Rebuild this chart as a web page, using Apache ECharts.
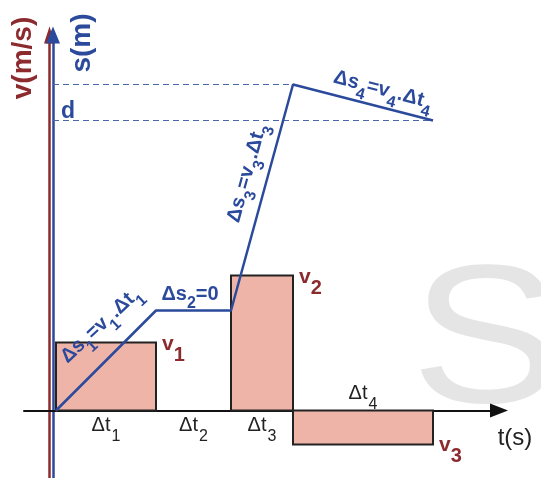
<!DOCTYPE html>
<html>
<head>
<meta charset="utf-8">
<script src="https://cdn.jsdelivr.net/npm/echarts@6/dist/echarts.min.js"></script>
<style>
html, body { margin: 0; padding: 0; background: #fff; }
#main { width: 541px; height: 478px; }
</style>
</head>
<body>
<div id="main"></div>
<script>
// time edges of the four intervals (arbitrary units)
var tEdges = [0, 10, 17.5, 23.7, 37.7];
// velocity in each interval
var velocities = [6.8, 0, 13.5, -3.4];
var intervalNames = ['1', '2', '3', '4'];
var velocityNames = ['1', '', '2', '3'];
// position curve s(t)
var sTimes = [0, 10, 17.5, 23.7, 37.7];
var sValues = [0, 10, 10, 32.6, 29];
var peakS = 32.6;
var dValue = 29;

var RED = '#8c2b2e';
var BLUE = '#2b4a9c';
var FONT = '"Liberation Sans", Arial, sans-serif';

// where the two vertical axes sit, in t units
var vAxisAt = -0.65;
var sAxisAt = -0.3;
var xMin = -3.2, xMax = 44.3;

var barData = [];
for (var i = 0; i < velocities.length; i++) {
    barData.push([tEdges[i], tEdges[i + 1], velocities[i]]);
}

// rich styles (zrender style, so fill not color)
var dtRich = {
    m: { fontSize: 20, fill: '#222', fontFamily: FONT, lineHeight: 22, verticalAlign: 'top' },
    s: { fontSize: 16, fill: '#222', fontFamily: FONT, lineHeight: 16, verticalAlign: 'top', padding: [13, 0, 0, 1] }
};
var vRich = {
    m: { fontSize: 21, fontWeight: 'bold', fill: RED, fontFamily: FONT, lineHeight: 20, verticalAlign: 'top' },
    s: { fontSize: 20, fontWeight: 'bold', fill: RED, fontFamily: FONT, lineHeight: 20, verticalAlign: 'top', padding: [12, 0, 0, 0] }
};
var aRich = {
    a: { fontSize: 20, fontWeight: 'bold', fill: BLUE, fontFamily: FONT, lineHeight: 20, verticalAlign: 'top' },
    b: { fontSize: 16, fontWeight: 'bold', fill: BLUE, fontFamily: FONT, lineHeight: 16, verticalAlign: 'top', padding: [12, 0, 0, 0] }
};

function renderBar(params, api) {
    var idx = params.dataIndex;
    var t0 = api.value(0), t1 = api.value(1), v = api.value(2);
    var p0 = api.coord([t0, 0]);
    var p1 = api.coord([t1, v]);
    var y = Math.min(p0[1], p1[1]);
    var h = Math.abs(p1[1] - p0[1]);
    var children = [];
    if (h > 0) {
        children.push({
            type: 'rect',
            shape: { x: p0[0], y: y, width: p1[0] - p0[0], height: h },
            style: { fill: '#efb4a8', stroke: '#222', lineWidth: 2 }
        });
        children.push({
            type: 'text',
            x: p1[0] + 6,
            y: v > 0 ? p1[1] - 9 : p1[1] - 10,
            style: { text: '{m|v}{s|' + velocityNames[idx] + '}', rich: vRich, align: 'left', verticalAlign: 'top' },
            z2: 10
        });
    }
    var midX = (p0[0] + p1[0]) / 2;
    children.push({
        type: 'text',
        x: midX,
        y: v < 0 ? p0[1] - 5 : p0[1] + 5,
        style: { text: '{m|\u0394t}{s|' + intervalNames[idx] + '}', rich: dtRich, align: 'center', verticalAlign: v < 0 ? 'bottom' : 'top' },
        z2: 10
    });
    return { type: 'group', children: children };
}

var chart = echarts.init(document.getElementById('main'));
chart.setOption({
    animation: false,
    backgroundColor: '#fff',
    textStyle: { fontFamily: FONT },
    grid: { left: 24, right: 42, top: 35, bottom: 0 },
    xAxis: [
        {
            type: 'value', min: xMin, max: xMax,
            axisLine: { onZero: true, onZeroAxisIndex: 0, symbol: ['none', 'triangle'], symbolSize: [14, 18], lineStyle: { color: '#111', width: 2 } },
            axisTick: { show: false }, axisLabel: { show: false }, splitLine: { show: false }
        },
        { type: 'value', show: false, min: xMin - vAxisAt, max: xMax - vAxisAt },
        { type: 'value', show: false, min: xMin - sAxisAt, max: xMax - sAxisAt }
    ],
    yAxis: [
        {
            type: 'value', position: 'left', min: -6.75, max: 37.55,
            axisLine: { show: true, onZero: true, onZeroAxisIndex: 1, symbol: ['none', 'triangle'], symbolSize: [11, 17], lineStyle: { color: RED, width: 2.5 } },
            axisTick: { show: false }, axisLabel: { show: false }, splitLine: { show: false }
        },
        {
            type: 'value', position: 'left', min: -6.75, max: 37.55,
            axisLine: { show: true, onZero: true, onZeroAxisIndex: 2, symbol: ['none', 'triangle'], symbolSize: [14, 17], lineStyle: { color: BLUE, width: 2.5 } },
            axisTick: { show: false }, axisLabel: { show: false }, splitLine: { show: false }
        }
    ],
    graphic: [
        { type: 'text', x: 486, y: 348, scaleX: 1.15, z: -10, silent: true,
          style: { text: 'S', fontSize: 196, fontFamily: FONT, fill: '#e5e5e5', align: 'center', verticalAlign: 'middle' } },
        { type: 'text', x: 23, y: 58, rotation: Math.PI / 2, z: 100,
          style: { text: 'v(m/s)', fontSize: 28, fontWeight: 'bold', fontFamily: FONT, fill: RED, align: 'center', verticalAlign: 'middle' } },
        { type: 'text', x: 82, y: 43, rotation: Math.PI / 2, z: 100,
          style: { text: 's(m)', fontSize: 28, fontWeight: 'bold', fontFamily: FONT, fill: BLUE, align: 'center', verticalAlign: 'middle' } },
        { type: 'text', x: 68, y: 112, z: 100,
          style: { text: 'd', fontSize: 23, fontWeight: 'bold', fontFamily: FONT, fill: BLUE, align: 'center', verticalAlign: 'middle' } },
        { type: 'text', x: 515, y: 438, z: 100,
          style: { text: 't(s)', fontSize: 24, fontFamily: FONT, fill: '#222', align: 'center', verticalAlign: 'middle' } },
        { type: 'text', x: 101, y: 325, rotation: 0.75, z: 100,
          style: { text: '{a|\u0394s}{b|1}{a|=v}{b|1}{a|.\u0394t}{b|1}', rich: aRich, align: 'center', verticalAlign: 'middle' } },
        { type: 'text', x: 190, y: 294, z: 100,
          style: { text: '{a|\u0394s}{b|2}{a|=0}', rich: aRich, align: 'center', verticalAlign: 'middle' } },
        { type: 'text', x: 247, y: 173, rotation: 1.30, z: 100,
          style: { text: '{a|\u0394s}{b|3}{a|=v}{b|3}{a|.\u0394t}{b|3}', rich: aRich, align: 'center', verticalAlign: 'middle' } },
        { type: 'text', x: 383, y: 90, rotation: -0.26, z: 100,
          style: { text: '{a|\u0394s}{b|4}{a|=v}{b|4}{a|.\u0394t}{b|4}', rich: aRich, align: 'center', verticalAlign: 'middle' } }
    ],
    series: [
        {
            type: 'custom',
            xAxisIndex: 0, yAxisIndex: 0,
            renderItem: renderBar,
            data: barData,
            z: 2
        },
        {
            type: 'line',
            xAxisIndex: 0, yAxisIndex: 1,
            data: [[sAxisAt, peakS], [sTimes[3], peakS]],
            symbol: 'none',
            lineStyle: { color: '#4a66ab', width: 1, type: [6, 4] },
            z: 3
        },
        {
            type: 'line',
            xAxisIndex: 0, yAxisIndex: 1,
            data: [[sAxisAt, dValue], [sTimes[4], dValue]],
            symbol: 'none',
            lineStyle: { color: '#4a66ab', width: 1, type: [6, 4] },
            z: 3
        },
        {
            type: 'line',
            xAxisIndex: 0, yAxisIndex: 1,
            data: sTimes.map(function (t, i) { return [t, sValues[i]]; }),
            symbol: 'none',
            lineStyle: { color: BLUE, width: 2.5 },
            z: 5
        }
    ]
});
</script>
</body>
</html>
